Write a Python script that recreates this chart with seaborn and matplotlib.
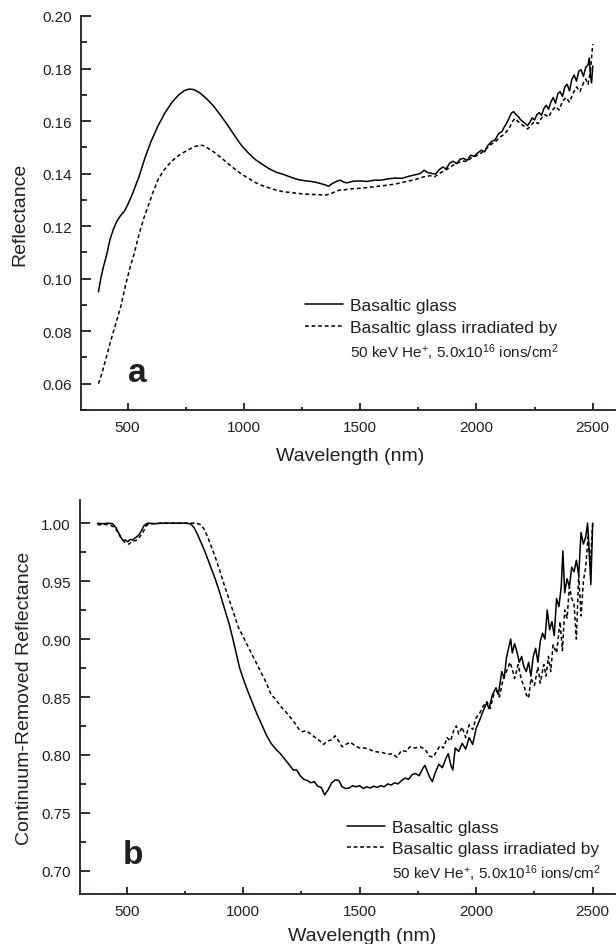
import matplotlib
matplotlib.use("Agg")
import matplotlib.pyplot as plt
from matplotlib.lines import Line2D
from matplotlib.ticker import MultipleLocator
import seaborn as sns

# ---- panel a: reflectance ----
a_glass_wl = [375, 385, 395, 410, 425, 440, 455, 470, 485, 500, 520, 550, 575, 600, 630, 660, 690, 720, 745, 765,
              785, 810, 840, 870, 900, 930, 960, 990, 1020, 1050, 1080, 1110, 1140, 1170, 1200, 1230, 1260, 1290,
              1310, 1330, 1350, 1365, 1380, 1400, 1415, 1430, 1445, 1470, 1500, 1530, 1560, 1590, 1620, 1650, 1680,
              1710, 1740, 1760, 1775, 1790, 1810, 1825, 1840, 1855, 1870, 1885, 1900, 1915, 1930, 1945, 1960, 1975,
              1990, 2005, 2020, 2035, 2050, 2065, 2080, 2095, 2110, 2120, 2130, 2140, 2150, 2160, 2170, 2180, 2190,
              2200, 2210, 2220, 2230, 2240, 2250, 2260, 2270, 2280, 2290, 2300, 2310, 2320, 2330, 2340, 2350, 2360,
              2370, 2380, 2390, 2400, 2410, 2420, 2430, 2440, 2450, 2460, 2470, 2480, 2485, 2490, 2495, 2500]
a_glass_r = [0.095, 0.100, 0.104, 0.109, 0.115, 0.119, 0.122, 0.124, 0.1255, 0.128, 0.132, 0.139, 0.146, 0.152,
             0.158, 0.163, 0.167, 0.170, 0.1716, 0.1722, 0.172, 0.1708, 0.1685, 0.1657, 0.1622, 0.1585, 0.1545,
             0.1507, 0.1478, 0.1453, 0.1435, 0.1418, 0.1405, 0.1397, 0.1387, 0.1378, 0.1373, 0.1370, 0.1367, 0.1362,
             0.1357, 0.1352, 0.1362, 0.1371, 0.1375, 0.1367, 0.1365, 0.1371, 0.1372, 0.1370, 0.1375, 0.1375, 0.1380,
             0.1383, 0.1382, 0.1390, 0.1396, 0.1401, 0.1413, 0.1404, 0.1400, 0.1399, 0.1415, 0.1425, 0.1418, 0.1440,
             0.1447, 0.1438, 0.1455, 0.1458, 0.1450, 0.1470, 0.1466, 0.1478, 0.1489, 0.1483, 0.1508, 0.1522, 0.1528,
             0.1552, 0.1560, 0.1578, 0.1592, 0.1610, 0.1630, 0.1636, 0.1625, 0.1617, 0.1605, 0.1598, 0.1590, 0.1583,
             0.1596, 0.1612, 0.1604, 0.1625, 0.1632, 0.1622, 0.1648, 0.1660, 0.1645, 0.1672, 0.1690, 0.1668, 0.1704,
             0.1712, 0.1694, 0.1730, 0.1740, 0.1715, 0.1758, 0.1775, 0.1752, 0.1790, 0.1795, 0.1770, 0.1805, 0.1815,
             0.1840, 0.1775, 0.1745, 0.1810]

a_irr_wl = [375, 390, 410, 430, 450, 470, 490, 510, 530, 550, 570, 590, 610, 630, 650, 670, 690, 710, 730, 750, 770,
            790, 810, 825, 845, 870, 900, 930, 960, 990, 1020, 1050, 1080, 1110, 1140, 1170, 1200, 1240, 1280, 1320,
            1350, 1370, 1390, 1410, 1430, 1460, 1500, 1550, 1600, 1650, 1700, 1740, 1770, 1800, 1820, 1840, 1860,
            1880, 1900, 1920, 1940, 1960, 1980, 2000, 2020, 2040, 2060, 2080, 2100, 2120, 2140, 2155, 2165, 2175,
            2190, 2205, 2220, 2235, 2250, 2265, 2280, 2295, 2310, 2325, 2340, 2355, 2370, 2385, 2400, 2415, 2430,
            2445, 2460, 2470, 2480, 2490, 2500]
a_irr_r = [0.060, 0.064, 0.0705, 0.077, 0.083, 0.089, 0.097, 0.104, 0.110, 0.117, 0.123, 0.128, 0.133, 0.1375,
           0.1405, 0.1428, 0.1447, 0.1462, 0.1475, 0.1485, 0.1495, 0.1503, 0.1508, 0.1507, 0.1497, 0.1483, 0.1462,
           0.1440, 0.1418, 0.1398, 0.1382, 0.1366, 0.1354, 0.1345, 0.1337, 0.1331, 0.1328, 0.1324, 0.1321, 0.1320,
           0.1318, 0.1322, 0.1330, 0.1337, 0.1338, 0.1342, 0.1344, 0.1349, 0.1354, 0.1360, 0.1370, 0.1378, 0.1387,
           0.1392, 0.1388, 0.1400, 0.1410, 0.1420, 0.1432, 0.1440, 0.1448, 0.1446, 0.1462, 0.1468, 0.1478, 0.1493,
           0.1510, 0.1520, 0.1538, 0.1550, 0.1572, 0.1598, 0.1610, 0.1602, 0.1590, 0.1580, 0.1570, 0.1585, 0.1598,
           0.1590, 0.1612, 0.1625, 0.1615, 0.1640, 0.1655, 0.1642, 0.1675, 0.1690, 0.1672, 0.1705, 0.1730, 0.1712,
           0.1745, 0.1760, 0.1740, 0.1790, 0.1893]

# ---- panel b: continuum-removed reflectance ----
b_glass_wl = [375, 400, 420, 440, 455, 465, 475, 485, 495, 505, 515, 525, 535, 545, 555, 565, 575, 590, 620, 650, 700,
              750, 775, 790, 805, 820, 835, 850, 865, 880, 895, 910, 925, 940, 955, 970, 985, 1000, 1020, 1040, 1060,
              1080, 1100, 1120, 1140, 1160, 1180, 1200, 1215, 1230, 1245, 1260, 1275, 1290, 1305, 1320, 1335, 1350,
              1365, 1380, 1395, 1410, 1425, 1440, 1455, 1470, 1485, 1500, 1515, 1530, 1545, 1560, 1575, 1590, 1605,
              1620, 1635, 1650, 1665, 1680, 1695, 1710, 1725, 1740, 1755, 1770, 1780, 1790, 1800, 1812, 1825, 1840,
              1855, 1870, 1880, 1893, 1900, 1910, 1925, 1940, 1955, 1970, 1985, 2000, 2015, 2030, 2045, 2055, 2070,
              2085, 2095, 2110, 2120, 2130, 2140, 2148, 2155, 2165, 2175, 2185, 2195, 2205, 2215, 2225, 2235, 2245,
              2255, 2265, 2275, 2285, 2295, 2305, 2315, 2325, 2335, 2345, 2355, 2365, 2372, 2380, 2390, 2400, 2410,
              2420, 2430, 2440, 2450, 2460, 2470, 2478, 2485, 2492, 2500]
b_glass_cr = [1.000, 0.9995, 1.000, 0.9995, 0.996, 0.992, 0.988, 0.985, 0.9855, 0.984, 0.986, 0.9855, 0.987, 0.9885,
              0.9905, 0.994, 0.998, 1.000, 0.9995, 1.000, 1.000, 1.000, 0.9995, 0.996, 0.990, 0.983, 0.976, 0.968,
              0.960, 0.952, 0.943, 0.933, 0.923, 0.913, 0.901, 0.888, 0.875, 0.866, 0.855, 0.845, 0.835, 0.826,
              0.817, 0.810, 0.805, 0.801, 0.796, 0.791, 0.787, 0.787, 0.782, 0.779, 0.778, 0.776, 0.777, 0.773,
              0.772, 0.7655, 0.770, 0.776, 0.7785, 0.778, 0.7725, 0.771, 0.7715, 0.7735, 0.7725, 0.7735, 0.771,
              0.7725, 0.7715, 0.773, 0.772, 0.7735, 0.7725, 0.775, 0.774, 0.776, 0.775, 0.778, 0.780, 0.779, 0.783,
              0.784, 0.782, 0.788, 0.791, 0.786, 0.781, 0.777, 0.785, 0.792, 0.789, 0.797, 0.801, 0.790, 0.787,
              0.806, 0.803, 0.810, 0.805, 0.815, 0.809, 0.823, 0.830, 0.838, 0.845, 0.840, 0.852, 0.858, 0.852,
              0.872, 0.866, 0.884, 0.893, 0.900, 0.888, 0.896, 0.889, 0.880, 0.885, 0.876, 0.872, 0.880, 0.868,
              0.885, 0.892, 0.880, 0.898, 0.905, 0.900, 0.925, 0.908, 0.915, 0.903, 0.935, 0.928, 0.945, 0.976,
              0.940, 0.952, 0.945, 0.962, 0.958, 0.968, 0.955, 0.992, 0.982, 0.988, 1.000, 0.975, 0.947, 1.000]

b_irr_wl = [375, 400, 430, 450, 465, 480, 495, 510, 525, 540, 555, 570, 585, 600, 650, 700, 760, 800, 820, 835, 850,
            865, 880, 900, 920, 940, 960, 980, 1000, 1020, 1040, 1060, 1080, 1100, 1120, 1140, 1160, 1180, 1200,
            1220, 1240, 1255, 1270, 1290, 1310, 1330, 1345, 1360, 1380, 1395, 1410, 1425, 1440, 1460, 1480, 1500,
            1520, 1540, 1560, 1580, 1600, 1620, 1640, 1660, 1680, 1700, 1715, 1735, 1760, 1780, 1800, 1815, 1830,
            1845, 1860, 1875, 1890, 1905, 1915, 1925, 1940, 1955, 1970, 1985, 2000, 2015, 2030, 2045, 2060, 2075,
            2090, 2100, 2115, 2130, 2145, 2155, 2165, 2180, 2195, 2205, 2215, 2225, 2235, 2250, 2265, 2275, 2290,
            2300, 2310, 2320, 2330, 2345, 2360, 2370, 2380, 2390, 2400, 2410, 2420, 2430, 2440, 2450, 2460, 2470,
            2480, 2490, 2500]
b_irr_cr = [0.9985, 0.999, 0.9985, 0.996, 0.991, 0.986, 0.983, 0.982, 0.9845, 0.985, 0.988, 0.992, 0.998, 0.9995,
            1.000, 1.000, 1.000, 1.000, 0.9985, 0.994, 0.987, 0.979, 0.971, 0.959, 0.946, 0.934, 0.922, 0.910,
            0.902, 0.894, 0.886, 0.878, 0.870, 0.862, 0.852, 0.848, 0.842, 0.838, 0.833, 0.828, 0.822, 0.820,
            0.821, 0.818, 0.815, 0.812, 0.809, 0.812, 0.813, 0.8165, 0.812, 0.807, 0.809, 0.811, 0.808, 0.806,
            0.806, 0.805, 0.803, 0.8025, 0.802, 0.8005, 0.801, 0.798, 0.804, 0.803, 0.807, 0.806, 0.807, 0.805,
            0.799, 0.798, 0.803, 0.808, 0.806, 0.815, 0.812, 0.822, 0.825, 0.818, 0.824, 0.815, 0.826, 0.822,
            0.832, 0.836, 0.842, 0.846, 0.840, 0.852, 0.855, 0.850, 0.865, 0.872, 0.880, 0.874, 0.866, 0.878,
            0.864, 0.860, 0.852, 0.849, 0.866, 0.860, 0.876, 0.862, 0.878, 0.868, 0.885, 0.872, 0.895, 0.888,
            0.915, 0.890, 0.925, 0.918, 0.945, 0.935, 0.930, 0.900, 0.955, 0.920, 0.950, 0.962, 0.988, 0.965, 1.000]

lbl_glass = "Basaltic glass"
lbl_irr = "Basaltic glass irradiated by"
lbl_dose = r"50 keV He$^{+}$, 5.0x10$^{16}$ ions/cm$^{2}$"

sns.set_style("ticks")
ink = "#231f20"
plt.rcParams["font.family"] = ["Liberation Sans", "DejaVu Sans"]
plt.rcParams["mathtext.fontset"] = "custom"
plt.rcParams["mathtext.rm"] = "Liberation Sans"
plt.rcParams["mathtext.it"] = "Liberation Sans:italic"
plt.rcParams["mathtext.bf"] = "Liberation Sans:bold"
plt.rcParams["text.color"] = ink
plt.rcParams["axes.labelcolor"] = ink

dash = (0, (2.5, 1.8))

fig = plt.figure(figsize=(6.16, 9.45), dpi=100)
ax1 = fig.add_axes([81 / 616, 1 - 411 / 945, 535 / 616, 394 / 945])
ax2 = fig.add_axes([80 / 616, 1 - 895 / 945, 536 / 616, 394 / 945])

sns.lineplot(x=a_glass_wl, y=a_glass_r, ax=ax1, color="black", lw=1.1, estimator=None, sort=False)
sns.lineplot(x=a_irr_wl, y=a_irr_r, ax=ax1, color="black", lw=1.1, estimator=None, sort=False, linestyle=dash)
sns.lineplot(x=b_glass_wl, y=b_glass_cr, ax=ax2, color="black", lw=1.1, estimator=None, sort=False)
sns.lineplot(x=b_irr_wl, y=b_irr_cr, ax=ax2, color="black", lw=1.1, estimator=None, sort=False, linestyle=dash)

ax1.set_ylim(0.05, 0.20)
ax1.yaxis.set_major_locator(MultipleLocator(0.02))
ax1.yaxis.set_minor_locator(MultipleLocator(0.01))
ax1.yaxis.set_major_formatter(plt.FormatStrFormatter("%.2f"))
ax2.set_ylim(0.68, 1.02)
ax2.yaxis.set_major_locator(MultipleLocator(0.05))
ax2.yaxis.set_minor_locator(MultipleLocator(0.025))
ax2.yaxis.set_major_formatter(plt.FormatStrFormatter("%.2f"))

for ax in (ax1, ax2):
    ax.set_xlim(300, 2600)
    ax.xaxis.set_major_locator(MultipleLocator(500))
    ax.xaxis.set_minor_locator(MultipleLocator(250))
    sns.despine(ax=ax)
    for s in ("left", "bottom"):
        ax.spines[s].set_linewidth(1.3)
        ax.spines[s].set_color(ink)
    ax.tick_params(axis="x", which="major", direction="in", length=5, width=1.3, color=ink,
                   labelsize=11, labelcolor=ink, pad=7.5)
    ax.tick_params(axis="x", which="minor", direction="in", length=2.5, width=1.3, color=ink)
    ax.tick_params(axis="y", which="major", direction="in", length=7, width=1.3, color=ink,
                   labelsize=11, labelcolor=ink, pad=6.5)
    ax.tick_params(axis="y", which="minor", direction="in", length=4.5, width=1.3, color=ink)
    ax.set_xlabel("Wavelength (nm)", fontsize=14)

ax1.set_ylabel("Reflectance", fontsize=14)
ax2.set_ylabel("Continuum-Removed Reflectance", fontsize=14)
ax1.yaxis.set_label_coords(-0.099, 0.5)
ax2.yaxis.set_label_coords(-0.088, 0.5)
ax1.xaxis.set_label_coords(0.503, -0.093)
ax2.xaxis.set_label_coords(0.526, -0.083)

ax1.text(0.105, 0.096, "a", transform=ax1.transAxes, fontsize=24, fontweight="bold",
         ha="center", va="center", color=ink)
ax2.text(0.099, 0.099, "b", transform=ax2.transAxes, fontsize=24, fontweight="bold",
         ha="center", va="center", color=ink)

for ax, anchor in ((ax1, (0.419, 0.284)), (ax2, (0.498, 0.188))):
    handles = [Line2D([], [], color="black", lw=1.1),
               Line2D([], [], color="black", lw=1.1, linestyle=dash),
               Line2D([], [], color="none")]
    leg = ax.legend(handles, [lbl_glass, lbl_irr, lbl_dose], loc="upper left", bbox_to_anchor=anchor,
                    frameon=False, fontsize=12.5, handlelength=2.2, handletextpad=0.4,
                    labelspacing=0.36, borderpad=0, borderaxespad=0)
    leg.get_texts()[2].set_fontsize(11)

fig.savefig("out.png", dpi=100)
